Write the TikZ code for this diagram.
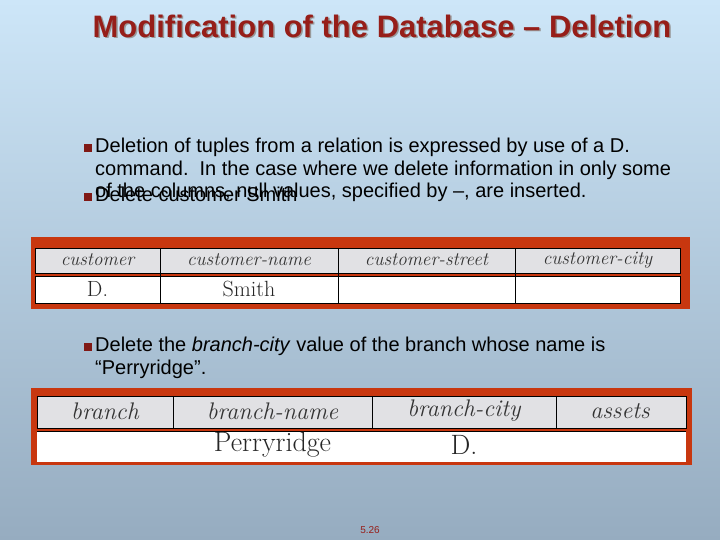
\documentclass[tikz,border=0pt]{standalone}
\usepackage{fontspec}
\setmainfont{Liberation Sans}
\newfontfamily\cellfont{Latin Modern Roman}
\definecolor{titleRed}{RGB}{150,30,25}
\definecolor{frameRed}{RGB}{200,55,15}
\definecolor{headGray}{RGB}{225,225,228}
\definecolor{bgTop}{RGB}{205,230,248}
\definecolor{bgBottom}{RGB}{150,172,192}
\newcommand{\bulletItem}[3]{%%
  \node[bulletStyle] (#1b) at (88,#2+10) {};
  \node[textStyle] (#1) at (95,#2) {#3};
}
\begin{document}
\begin{tikzpicture}[x=1pt,y=-1pt,%%
  bulletStyle/.style={fill=titleRed!85!black,minimum size=8pt,inner sep=0pt},%%
  textStyle/.style={anchor=north west,inner sep=0pt,align=left,font=\fontsize{20}{22.5}\selectfont},%%
  frameStyle/.style={fill=frameRed},%%
  headStyle/.style={fill=headGray,draw=black,line width=0.8pt},%%
  rowStyle/.style={fill=white,draw=black,line width=0.8pt},%%
  cellStyle/.style={font=\cellfont\itshape\fontsize{19}{19}\selectfont,text=black!80},%%
  bigCell/.style={font=\cellfont\itshape\fontsize{24}{24}\selectfont,text=black!80},%%
  valStyle/.style={font=\cellfont\fontsize{22}{22}\selectfont,text=black!85}
]
%% Background.
\shade[top color=bgTop,bottom color=bgBottom] (0,0) rectangle (720,540);
\useasboundingbox (0,0) rectangle (720,540);
%%
%% Title with its shadow.
\node[text=black!40,font=\bfseries\fontsize{31}{31}\selectfont] at (383.5,27.5) {Modification of the Database -- Deletion};
\node (title) [text=titleRed,font=\bfseries\fontsize{31}{31}\selectfont] at (382,26) {Modification of the Database -- Deletion};
%%
%% The bullets.
\bulletItem{del}{138}{Deletion of tuples from a relation is expressed by use of a D.\\command.\ \ In the case where we delete information in only some\\of the columns, null values, specified by --, are inserted.}
\bulletItem{smith}{187}{Delete customer Smith}
\bulletItem{city}{337}{Delete the \textit{branch-city} value of the branch whose name is\\``Perryridge''.}
%%
%% The customer table.
\fill[frameStyle] (31,237) rectangle (690,309);
\draw[headStyle] (35,248) rectangle (680,273);
\draw[rowStyle] (35,276) rectangle (680,303);
\foreach \x in {160,338,515} \draw[line width=0.8pt] (\x,248) -- (\x,303);
\node[cellStyle] (cust) at (97.5,260) {customer};
\node[cellStyle] (custName) at (249,260) {customer-name};
\node[cellStyle] (custStreet) at (426.5,260) {customer-street};
\node[cellStyle] (custCity) at (597.5,260) {customer-city};
\node[valStyle] (custD) at (97.5,289) {D.};
\node[valStyle] (custSmith) at (249,289) {Smith};
%%
%% The branch table.
\fill[frameStyle] (31,388) rectangle (692,465);
\draw[headStyle] (37,396) rectangle (686,428);
\fill[white] (37,431) rectangle (686,462);
\draw[line width=0.8pt] (37,431) -- (686,431);
\foreach \x in {173,372,556} \draw[line width=0.8pt] (\x,396) -- (\x,428);
\node[bigCell] (br) at (105,411) {branch};
\node[bigCell] (brName) at (272.5,411) {branch-name};
\node[bigCell] (brCity) at (464,411) {branch-city};
\node[bigCell] (brAssets) at (620,411) {assets};
\node[valStyle,font=\cellfont\fontsize{28}{28}\selectfont] (brPerry) at (272.5,445) {Perryridge};
\node[valStyle,font=\cellfont\fontsize{28}{28}\selectfont] (brD) at (464,445) {D.};
%%
%% Page number.
\node[text=titleRed,font=\fontsize{10}{10}\selectfont] (page) at (370,530) {5.26};
\end{tikzpicture}
\end{document}
